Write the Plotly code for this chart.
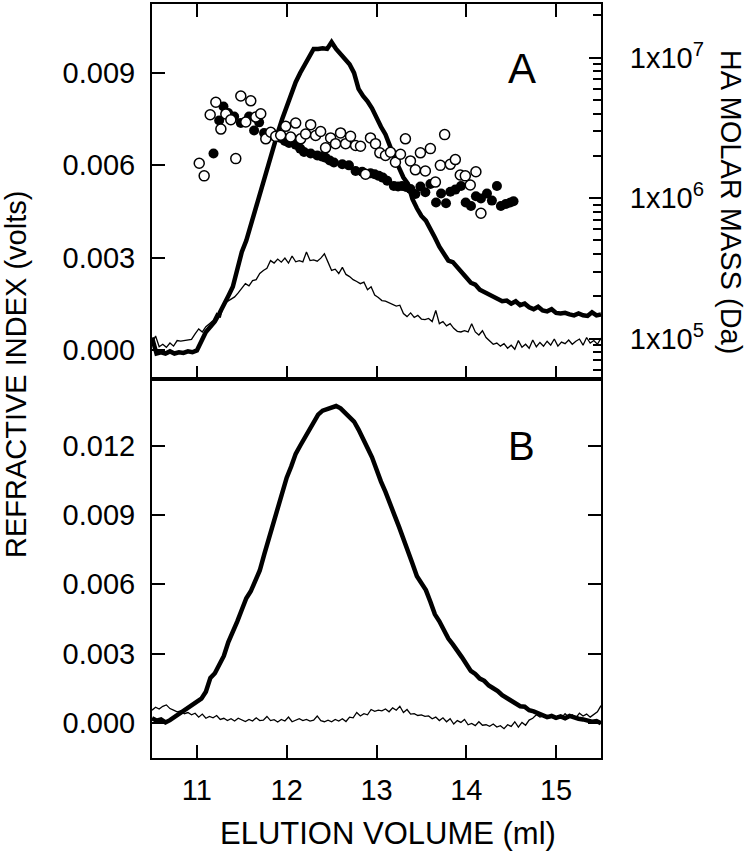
import numpy as np
import plotly.graph_objects as go

# ---------------- data ----------------
X_START, X_END = 10.5, 15.5

# Panel A, thick RI trace (step 0.05 ml)
a_thick = [0.00040, -0.00012, -0.00008, -0.00012, -0.00005, -0.00012, -0.00008, -0.00010, -0.00005, -0.00008,
           -0.00002, 0.00030, 0.00058, 0.00075, 0.00092, 0.00118, 0.00150, 0.00175, 0.00205, 0.00260,
           0.00318, 0.00355, 0.00405, 0.00460, 0.00515, 0.00565, 0.00612, 0.00655, 0.00705, 0.00750,
           0.00792, 0.00830, 0.00870, 0.00900, 0.00925, 0.00952, 0.00978, 0.00978, 0.00980, 0.00978,
           0.01000, 0.00978, 0.00962, 0.00945, 0.00928, 0.00900, 0.00848, 0.00825, 0.00808, 0.00785,
           0.00752, 0.00725, 0.00700, 0.00660, 0.00625, 0.00592, 0.00560, 0.00540, 0.00490, 0.00460,
           0.00435, 0.00420, 0.00395, 0.00365, 0.00335, 0.00315, 0.00290, 0.00285, 0.00270, 0.00255,
           0.00235, 0.00218, 0.00212, 0.00195, 0.00188, 0.00178, 0.00172, 0.00165, 0.00158, 0.00160,
           0.00150, 0.00158, 0.00145, 0.00150, 0.00138, 0.00132, 0.00140, 0.00128, 0.00125, 0.00132,
           0.00120, 0.00118, 0.00120, 0.00115, 0.00112, 0.00118, 0.00112, 0.00110, 0.00122, 0.00112,
           0.00115]

# Panel A, thin RI trace (step 0.04 ml)
a_thin = [0.00020, 0.00045, 0.00010, 0.00018, 0.00008, 0.00022, 0.00012, 0.00030, 0.00028, 0.00030,
          0.00032, 0.00034, 0.00052, 0.00068, 0.00058, 0.00075, 0.00085, 0.00095, 0.00118, 0.00105,
          0.00150, 0.00158, 0.00165, 0.00172, 0.00185, 0.00200, 0.00215, 0.00208, 0.00225, 0.00228,
          0.00248, 0.00258, 0.00265, 0.00290, 0.00282, 0.00295, 0.00285, 0.00298, 0.00282, 0.00305,
          0.00286, 0.00290, 0.00286, 0.00318, 0.00290, 0.00292, 0.00288, 0.00298, 0.00312, 0.00285,
          0.00258, 0.00262, 0.00248, 0.00268, 0.00245, 0.00238, 0.00228, 0.00222, 0.00215, 0.00220,
          0.00195, 0.00205, 0.00178, 0.00170, 0.00160, 0.00158, 0.00152, 0.00148, 0.00142, 0.00145,
          0.00118, 0.00108, 0.00120, 0.00105, 0.00112, 0.00100, 0.00098, 0.00102, 0.00092, 0.00128,
          0.00085, 0.00092, 0.00078, 0.00085, 0.00070, 0.00060, 0.00058, 0.00062, 0.00058, 0.00085,
          0.00058, 0.00048, 0.00062, 0.00040, 0.00030, 0.00018, 0.00022, 0.00012, 0.00020, 0.00005,
          0.00015, 0.00002, 0.00030, 0.00008, 0.00018, 0.00005, 0.00032, 0.00010, 0.00024, 0.00012,
          0.00028, 0.00015, 0.00035, 0.00012, 0.00025, 0.00020, 0.00032, 0.00018, 0.00028, 0.00035,
          0.00015, 0.00040, 0.00022, 0.00030, 0.00018, 0.00038]

# Panel A, molar mass (filled circles)
mm_filled_x = [11.185, 11.248, 11.296, 11.348, 11.415, 11.489, 11.581, 11.637, 11.693, 11.748,
               11.822, 11.880, 11.933, 11.980, 12.026, 12.100, 12.150, 12.193, 12.267, 12.341,
               12.390, 12.433, 12.480, 12.526, 12.619, 12.693, 12.767, 12.841, 12.933, 12.980,
               13.026, 13.070, 13.119, 13.193, 13.240, 13.285, 13.330, 13.378, 13.433, 13.489,
               13.544, 13.600, 13.663, 13.719, 13.774, 13.822, 13.878, 13.941, 13.993, 14.052,
               14.107, 14.163, 14.230, 14.285, 14.341, 14.385, 14.441, 14.489, 14.526]
mm_filled_y = [2.08e6, 3.57e6, 4.49e6, 4.03e6, 3.81e6, 3.42e6, 3.81e6, 3.03e6, 3.46e6, 2.91e6,
               2.79e6, 2.72e6, 2.68e6, 2.55e6, 2.47e6, 2.40e6, 2.25e6, 2.13e6, 2.08e6, 2.01e6,
               1.98e6, 1.94e6, 1.85e6, 1.79e6, 1.74e6, 1.71e6, 1.56e6, 1.54e6, 1.50e6, 1.48e6,
               1.44e6, 1.40e6, 1.33e6, 1.22e6, 1.21e6, 1.22e6, 1.20e6, 1.16e6, 1.07e6, 1.21e6,
               1.10e6, 1.26e6, 9.3e5, 1.08e6, 9.2e5, 1.11e6, 1.15e6, 1.22e6, 9.3e5, 8.8e5,
               1.03e6, 9.95e5, 1.08e6, 9.6e5, 1.22e6, 8.8e5, 9.1e5, 9.3e5, 9.5e5]

# Panel A, molar mass (open circles)
mm_open_x = [11.026, 11.081, 11.148, 11.211, 11.267, 11.322, 11.378, 11.433, 11.489, 11.544,
             11.600, 11.656, 11.711, 11.767, 11.822, 11.878, 11.933, 11.989, 12.044, 12.100,
             12.156, 12.211, 12.267, 12.322, 12.378, 12.433, 12.489, 12.544, 12.600, 12.656,
             12.711, 12.767, 12.822, 12.878, 12.933, 12.989, 13.037, 13.100, 13.156, 13.211,
             13.267, 13.322, 13.378, 13.433, 13.489, 13.544, 13.600, 13.656, 13.711, 13.759,
             13.822, 13.878, 13.933, 13.989, 14.044, 14.107, 14.163]
mm_open_y = [1.77e6, 1.44e6, 3.92e6, 4.81e6, 3.10e6, 3.96e6, 3.61e6, 1.91e6, 5.33e6, 3.48e6,
             4.92e6, 3.77e6, 3.98e6, 2.64e6, 2.94e6, 2.75e6, 2.80e6, 3.24e6, 2.72e6, 3.42e6,
             2.64e6, 2.86e6, 3.33e6, 2.79e6, 2.98e6, 2.28e6, 2.68e6, 2.44e6, 2.91e6, 2.44e6,
             2.75e6, 2.37e6, 2.34e6, 1.48e6, 2.68e6, 2.44e6, 2.10e6, 2.01e6, 2.12e6, 1.80e6,
             2.05e6, 2.64e6, 1.84e6, 1.59e6, 2.10e6, 1.56e6, 2.25e6, 1.30e6, 1.71e6, 2.83e6,
             1.74e6, 1.88e6, 1.46e6, 1.44e6, 1.24e6, 1.54e6, 7.8e5]

# Panel B, thick RI trace (step 0.05 ml)
b_thick = [0.00020, 0.00010, 0.00015, 0.00002, 0.00012, 0.00025, 0.00035, 0.00048, 0.00062, 0.00078,
           0.00090, 0.00105, 0.00135, 0.00195, 0.00215, 0.00248, 0.00290, 0.00350, 0.00392, 0.00440,
           0.00490, 0.00540, 0.00570, 0.00610, 0.00660, 0.00730, 0.00800, 0.00865, 0.00930, 0.01000,
           0.01062, 0.01110, 0.01165, 0.01200, 0.01235, 0.01275, 0.01305, 0.01335, 0.01352, 0.01360,
           0.01365, 0.01372, 0.01362, 0.01345, 0.01325, 0.01305, 0.01270, 0.01235, 0.01190, 0.01150,
           0.01095, 0.01045, 0.01000, 0.00955, 0.00900, 0.00850, 0.00800, 0.00745, 0.00690, 0.00635,
           0.00600, 0.00575, 0.00525, 0.00470, 0.00440, 0.00400, 0.00365, 0.00340, 0.00308, 0.00285,
           0.00255, 0.00225, 0.00212, 0.00192, 0.00182, 0.00162, 0.00150, 0.00138, 0.00120, 0.00108,
           0.00095, 0.00088, 0.00072, 0.00070, 0.00055, 0.00050, 0.00040, 0.00035, 0.00025, 0.00030,
           0.00022, 0.00028, 0.00020, 0.00030, 0.00022, 0.00018, 0.00015, 0.00012, 0.00005, 0.00008,
           -0.00002]

# Panel B, thin RI trace (step 0.04 ml)
b_thin = [0.00055, 0.00068, 0.00060, 0.00072, 0.00078, 0.00062, 0.00055, 0.00048, 0.00052, 0.00040,
          0.00045, 0.00035, 0.00042, 0.00025, 0.00038, 0.00020, 0.00028, 0.00022, 0.00032, 0.00015,
          0.00020, 0.00010, 0.00018, 0.00008, 0.00020, 0.00012, 0.00006, 0.00015, 0.00008, 0.00022,
          0.00010, 0.00012, 0.00028, 0.00010, 0.00014, 0.00004, 0.00015, 0.00008, 0.00025, 0.00005,
          0.00012, 0.00018, 0.00010, 0.00015, 0.00008, 0.00012, 0.00030, 0.00010, 0.00005, 0.00012,
          0.00005, 0.00015, 0.00008, 0.00018, 0.00006, 0.00025, 0.00022, 0.00045, 0.00030, 0.00040,
          0.00035, 0.00058, 0.00050, 0.00055, 0.00052, 0.00060, 0.00048, 0.00065, 0.00055, 0.00072,
          0.00045, 0.00058, 0.00038, 0.00040, 0.00032, 0.00035, 0.00028, 0.00030, 0.00018, 0.00025,
          0.00010, 0.00022, 0.00005, 0.00018, -0.00005, 0.00010, 0.00002, 0.00015, -0.00008, -0.00002,
          -0.00012, 0.00005, -0.00010, -0.00008, -0.00015, -0.00005, -0.00018, -0.00012, -0.00025, -0.00008,
          -0.00015, 0.00005, -0.00018, 0.00002, -0.00010, 0.00012, 0.00020, 0.00035, 0.00025, 0.00030,
          0.00022, 0.00028, 0.00018, 0.00030, 0.00022, 0.00040, 0.00025, 0.00035, 0.00022, 0.00042,
          0.00030, 0.00038, 0.00025, 0.00035, 0.00048, 0.00075]

x_ticks = [11, 12, 13, 14, 15]
top_ri_ticks = [0.000, 0.003, 0.006, 0.009]
bot_ri_ticks = [0.000, 0.003, 0.006, 0.009, 0.012]
mm_ticks = [1e5, 1e6, 1e7]
mm_tick_text = ["1x10<sup>5</sup>", "1x10<sup>6</sup>", "1x10<sup>7</sup>"]


def grid(vals):
    return np.linspace(X_START, X_END, len(vals))


# ---------------- figure ----------------
FONT = "Liberation Sans, Arial, sans-serif"
fig = go.Figure()

fig.add_trace(go.Scatter(x=grid(a_thin), y=a_thin, mode="lines", line=dict(color="black", width=1.3),
                         xaxis="x2", yaxis="y2"))
fig.add_trace(go.Scatter(x=grid(a_thick), y=a_thick, mode="lines", line=dict(color="black", width=4.5),
                         xaxis="x2", yaxis="y2"))
fig.add_trace(go.Scatter(x=mm_filled_x, y=mm_filled_y, mode="markers",
                         marker=dict(color="black", size=10, line=dict(color="black", width=0)),
                         xaxis="x2", yaxis="y3"))
fig.add_trace(go.Scatter(x=mm_open_x, y=mm_open_y, mode="markers",
                         marker=dict(color="white", size=10, line=dict(color="black", width=1.5)),
                         xaxis="x2", yaxis="y3"))

fig.add_trace(go.Scatter(x=grid(b_thin), y=b_thin, mode="lines", line=dict(color="black", width=1.3),
                         xaxis="x", yaxis="y"))
fig.add_trace(go.Scatter(x=grid(b_thick), y=b_thick, mode="lines", line=dict(color="black", width=4.5),
                         xaxis="x", yaxis="y"))

SPLIT = 0.5026
axis_common = dict(showline=True, linecolor="black", linewidth=2, ticks="inside", tickcolor="black",
                   tickwidth=2, ticklen=13, showgrid=False, zeroline=False,
                   tickfont=dict(family=FONT, size=29, color="black"))

minor_vals = [m * 10 ** e for e in range(4, 8) for m in range(2, 10)]

fig.update_layout(
    width=750, height=851,
    margin=dict(l=152, r=149, t=2, b=93),
    paper_bgcolor="white", plot_bgcolor="white",
    showlegend=False,
    font=dict(family=FONT, color="black"),
    xaxis=dict(axis_common, domain=[0, 1], anchor="y", range=[X_START, X_END], tickvals=x_ticks,
               mirror=True, ticklabelstandoff=5),
    yaxis=dict(axis_common, domain=[0, SPLIT], anchor="x", range=[-0.00152, 0.01489], tickvals=bot_ri_ticks,
               tickformat=".3f", mirror="ticks", ticklabelstandoff=9),
    xaxis2=dict(axis_common, domain=[0, 1], anchor="y2", range=[X_START, X_END], tickvals=x_ticks,
                showticklabels=False, mirror="ticks", matches="x"),
    yaxis2=dict(axis_common, domain=[SPLIT, 1], anchor="x2", range=[-0.00095, 0.01124], tickvals=top_ri_ticks,
                tickformat=".3f", mirror=False, ticklabelstandoff=9),
    yaxis3=dict(axis_common, type="log", overlaying="y2", side="right", anchor="x2",
                range=[4.713, 7.381], tickvals=mm_ticks, ticktext=mm_tick_text, ticklen=12,
                ticklabelstandoff=21,
                minor=dict(tickvals=minor_vals, ticks="inside", ticklen=8, tickwidth=1.5, tickcolor="black")),
)

fig.add_annotation(text="A", x=14.62, y=0.00915, xref="x2", yref="y2", showarrow=False,
                   font=dict(family=FONT, size=42, color="black"))
fig.add_annotation(text="B", x=14.62, y=0.0120, xref="x", yref="y", showarrow=False,
                   font=dict(family=FONT, size=40, color="black"))

fig.add_annotation(text="REFRACTIVE INDEX (volts)", xref="paper", yref="paper", x=0, y=0.508,
                   xshift=-136, textangle=-90, showarrow=False, xanchor="center", yanchor="middle",
                   font=dict(family=FONT, size=29, color="black"))
fig.add_annotation(text="HA MOLAR MASS (Da)", xref="paper", yref="paper", x=1, y=0.7376,
                   xshift=130, textangle=90, showarrow=False, xanchor="center", yanchor="middle",
                   font=dict(family=FONT, size=29, color="black"))
fig.add_annotation(text="ELUTION VOLUME (ml)", xref="paper", yref="paper", x=0.525, y=0,
                   yshift=-75, showarrow=False, xanchor="center", yanchor="middle",
                   font=dict(family=FONT, size=31, color="black"))

fig.write_html("out.html", config={"displayModeBar": False},
               post_script="document.body.style.margin='0px';")
